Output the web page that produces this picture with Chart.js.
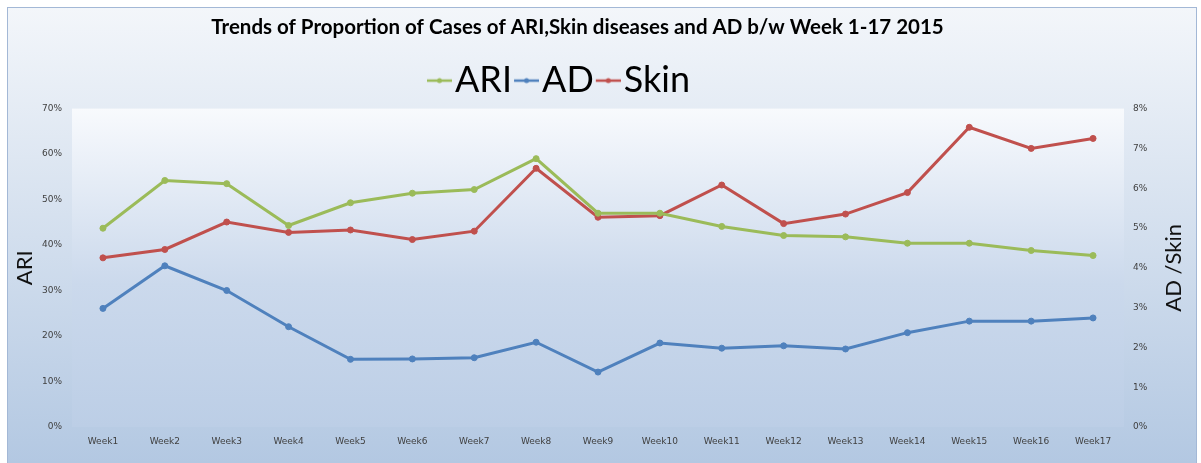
<!DOCTYPE html>
<html>
<head>
<meta charset="utf-8">
<script src="https://cdn.jsdelivr.net/npm/chart.js@4"></script>
<style>
  html, body { margin: 0; padding: 0; background: #fff; overflow: hidden; }
  #box { position: absolute; left: 7px; top: 7px; width: 1188px; height: 460px; border: 1px solid #a3b8d6; }
  #chart { display: block; }
</style>
</head>
<body>
<div id="box"><canvas id="chart" width="1188" height="455"></canvas></div>
<script>
// data
const weeks = ['Week1','Week2','Week3','Week4','Week5','Week6','Week7','Week8','Week9',
  'Week10','Week11','Week12','Week13','Week14','Week15','Week16','Week17'];
const ari = [43.7, 54.2, 53.5, 44.3, 49.3, 51.4, 52.2, 59.0, 47.0, 47.0, 44.1, 42.1, 41.8, 40.4, 40.4, 38.8, 37.7];
const ad = [2.98, 4.05, 3.43, 2.52, 1.70, 1.71, 1.74, 2.13, 1.38, 2.11, 1.98, 2.04, 1.96, 2.37, 2.66, 2.66, 2.74];
const skin = [4.25, 4.46, 5.15, 4.89, 4.95, 4.71, 4.92, 6.50, 5.27, 5.31, 6.08, 5.11, 5.35, 5.89, 7.53, 7.00, 7.25];
const leftTicks = [0, 10, 20, 30, 40, 50, 60, 70];
const rightTicks = [0, 1, 2, 3, 4, 5, 6, 7, 8];

const titleText = 'Trends of Proportion of Cases of ARI,Skin diseases and AD b/w Week 1-17 2015';
const rightTitle = 'AD /Skin';

const GREEN = '#9bbb59', BLUE = '#4f81bd', RED = '#c0504d';

// legend marker: short line with a dot, drawn to the right of centre
function marker(color) {
  const c = document.createElement('canvas');
  c.width = 32; c.height = 8;
  const g = c.getContext('2d');
  g.strokeStyle = color; g.lineWidth = 2.5;
  g.beginPath(); g.moveTo(7, 4); g.lineTo(32, 4); g.stroke();
  g.fillStyle = color;
  g.beginPath(); g.arc(19.5, 4, 2.5, 0, Math.PI * 2); g.fill();
  return c;
}

const bgPlugin = {
  id: 'bg',
  beforeDraw(chart) {
    const { ctx, width, height, chartArea: a } = chart;
    ctx.save();
    let g = ctx.createLinearGradient(0, 0, 0, height);
    g.addColorStop(0, '#f3f6fa');
    g.addColorStop(1, '#b3c8e2');
    ctx.fillStyle = g;
    ctx.fillRect(0, 0, width, height);
    g = ctx.createLinearGradient(0, a.top, 0, a.bottom);
    g.addColorStop(0, '#f8fafd');
    g.addColorStop(0.55, '#cbd9ec');
    g.addColorStop(1, '#bccee6');
    ctx.fillStyle = g;
    ctx.fillRect(a.left, a.top, a.right - a.left, a.bottom - a.top);
    ctx.restore();
  },
  afterLayout(chart) {
    // Title and legend sit left of centre in the original
    const t = chart.titleBlock;
    if (t) { const dx = 569.5 - (t.left + t.right) / 2; t.left += dx; t.right += dx; }
    const l = chart.legend;
    if (l && l.lineWidths) {
      const pad = l.options.labels.padding;
      const cx = (l.left + pad + l.right - l.lineWidths[0]) / 2;
      const dx = 427 - cx; l.left += dx; l.right += dx;
    }
  },
  afterDraw(chart) {
    const { ctx, chartArea: a } = chart;
    ctx.save();
    ctx.translate(1166, (a.top + a.bottom) / 2);
    ctx.rotate(-Math.PI / 2);
    ctx.font = '22px Lato';
    ctx.fillStyle = '#111';
    ctx.textAlign = 'center';
    ctx.textBaseline = 'middle';
    ctx.fillText(rightTitle, 0, 0);
    ctx.restore();
  }
};

const ds = (label, data, color, axis) => ({
  label, data, yAxisID: axis,
  borderColor: color, backgroundColor: color,
  pointBackgroundColor: color, pointBorderColor: color,
  borderWidth: 3, pointRadius: 3, pointBorderWidth: 1, tension: 0
});

const tickFont = { family: 'DejaVu Sans', size: 9 };

new Chart(document.getElementById('chart'), {
  type: 'line',
  data: {
    labels: weeks,
    datasets: [ds('ARI', ari, GREEN, 'y'), ds('AD', ad, BLUE, 'y1'), ds('Skin', skin, RED, 'y1')]
  },
  options: {
    responsive: false,
    animation: false,
    layout: { padding: 0 },
    plugins: {
      tooltip: { enabled: false },
      title: {
        display: true, text: titleText, color: '#000',
        font: { family: 'Lato', size: 20.5, weight: 'bold' },
        padding: { top: 7, bottom: 13 }
      },
      legend: {
        display: true,
        labels: {
          color: '#000',
          font: { family: 'Lato', size: 36 },
          usePointStyle: true, boxWidth: 2, boxHeight: 36, padding: 10,
          generateLabels(chart) {
            return chart.data.datasets.map((d, i) => ({
              text: d.label, pointStyle: marker(d.borderColor),
              fillStyle: d.borderColor, strokeStyle: d.borderColor,
              lineWidth: 0, datasetIndex: i, fontColor: '#000'
            }));
          }
        }
      }
    },
    scales: {
      x: {
        offset: true,
        grid: { display: false, drawTicks: false },
        border: { display: false },
        ticks: { color: '#404040', font: tickFont, padding: 9, maxRotation: 0, autoSkip: false },
        afterFit(s) { s.height = 36; }
      },
      y: {
        position: 'left', min: 0, max: 70,
        grid: { display: false, drawTicks: false },
        border: { display: false },
        afterBuildTicks(s) { s.ticks = leftTicks.map(v => ({ value: v })); },
        ticks: { color: '#404040', font: tickFont, padding: 10, callback: v => v + '%' },
        title: { display: true, text: 'ARI', color: '#111', font: { family: 'Lato', size: 22 }, padding: { top: 4, bottom: 0 } },
        afterFit(s) { s.width = 64; }
      },
      y1: {
        position: 'right', min: 0, max: 8,
        grid: { display: false, drawTicks: false },
        border: { display: false },
        afterBuildTicks(s) { s.ticks = rightTicks.map(v => ({ value: v })); },
        ticks: { color: '#404040', font: tickFont, padding: 9, callback: v => v + '%' },
        afterFit(s) { s.width = 72; }
      }
    }
  },
  plugins: [bgPlugin]
});
</script>
</body>
</html>
